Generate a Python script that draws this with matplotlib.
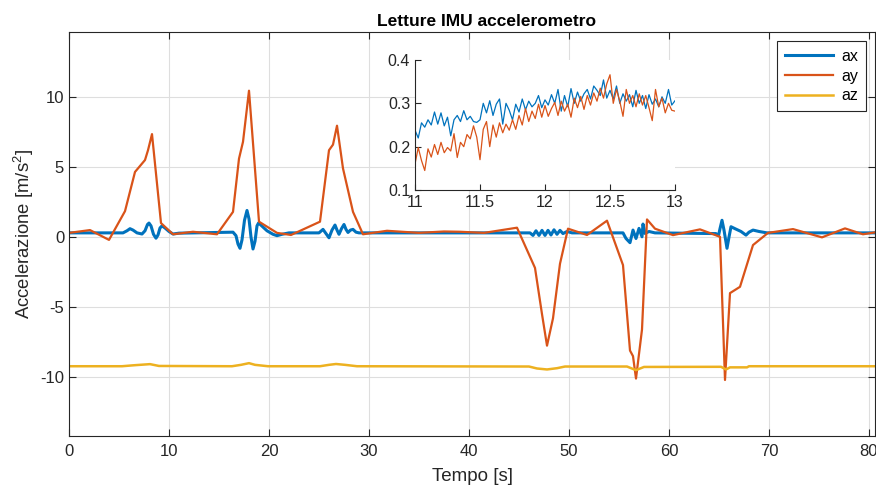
import matplotlib
matplotlib.use('Agg')
import matplotlib.pyplot as plt
import numpy as np

plt.rcParams['font.family'] = ['Liberation Sans', 'DejaVu Sans']
plt.rcParams['mathtext.default'] = 'regular'
plt.rcParams['axes.unicode_minus'] = False

# colori MATLAB di default
c_ax = '#0072BD'
c_ay = '#D95319'
c_az = '#EDB120'

# --- dati grafico principale (tempo [s], accelerazione [m/s^2]) ---
ax_t = [0.0, 5.4, 5.8, 6.1, 6.4, 6.8, 7.3, 7.6, 7.85, 8.0, 8.2, 8.45, 8.7, 8.9,
        9.1, 9.3, 9.6, 10.0, 10.4, 11.0,
        16.4, 16.7, 16.9, 17.1, 17.3, 17.55, 17.8, 18.0, 18.2, 18.4, 18.6, 18.8,
        18.95, 19.2, 19.8, 20.4, 20.8, 21.3, 22.0,
        25.0, 25.4, 25.7, 26.0, 26.3, 26.6, 26.8, 27.0, 27.25, 27.5, 27.7, 27.9,
        28.15, 28.4, 28.7, 29.0,
        46.1, 46.4, 46.7, 47.0, 47.3, 47.6, 47.9, 48.2, 48.5, 48.8, 49.1, 49.4,
        49.8, 50.3,
        55.4, 55.7, 56.1, 56.4, 56.7, 57.0, 57.3, 57.4, 57.6, 58.0, 58.6,
        64.7, 64.95, 65.1, 65.3, 65.5, 65.8, 66.0, 66.2, 66.6, 67.2, 67.7, 68.0,
        68.4, 69.0, 69.8, 81.0]
ax_v = [0.30, 0.30, 0.45, 0.60, 0.50, 0.30, 0.22, 0.45, 0.90, 1.00, 0.80, 0.20, -0.08, 0.15,
        0.65, 0.80, 0.65, 0.40, 0.22, 0.28,
        0.35, 0.10, -0.50, -0.80, -0.20, 1.20, 1.90, 1.30, 0.00, -0.85, -0.30, 0.80,
        1.00, 0.85, 0.45, 0.20, 0.10, 0.20, 0.30,
        0.30, 0.55, 0.25, -0.05, 0.50, 0.86, 0.50, 0.20, 0.60, 0.90, 0.55, 0.33,
        0.50, 0.55, 0.35, 0.30,
        0.30, 0.12, 0.45, 0.12, 0.48, 0.12, 0.48, 0.15, 0.52, 0.20, 0.48, 0.25,
        0.40, 0.30,
        0.30, -0.10, -0.40, 0.50, -0.10, 0.62, 0.02, 0.93, 0.26, 0.40, 0.30,
        0.25, 0.10, 0.60, 1.20, 0.50, -0.80, 0.00, 0.74, 0.60, 0.40, 0.14, 0.35,
        0.50, 0.40, 0.30, 0.30]

ay_t = [0.0, 2.1, 4.0, 5.6, 6.6, 7.6, 7.9, 8.3, 9.2, 10.4, 12.4, 14.8, 16.4, 17.0,
        17.4, 18.0, 19.0, 20.8, 22.2, 25.1, 26.0, 26.4, 26.8, 27.4, 28.4, 29.4,
        31.8, 35.0, 37.5, 39.1, 41.5, 44.8, 46.6, 47.3, 47.8, 48.4, 49.1, 49.9,
        51.8, 53.8, 55.4, 56.1, 56.4, 56.7, 57.3, 57.8, 58.6, 60.4, 63.1, 65.1,
        65.6, 66.1, 67.1, 68.4, 69.9, 72.4, 75.3, 77.6, 79.4, 81.0]
ay_v = [0.30, 0.50, -0.20, 1.85, 4.65, 5.50, 6.20, 7.35, 1.00, 0.20, 0.38, 0.20, 1.80, 5.60,
        6.80, 10.45, 1.10, 0.30, 0.15, 1.10, 6.20, 6.60, 7.95, 4.90, 1.80, 0.20,
        0.45, 0.30, 0.40, 0.38, 0.30, 0.67, -2.20, -5.50, -7.75, -5.80, -1.90, 0.60,
        0.15, 1.17, -2.00, -8.10, -8.50, -10.10, -6.60, 1.26, 0.60, 0.14, 0.55, 0.02,
        -10.20, -4.00, -3.55, -0.57, 0.30, 0.57, -0.02, 0.62, 0.20, 0.38]

az_t = [0.0, 5.3, 6.5, 8.1, 9.0, 16.3, 17.2, 18.0, 18.6, 19.9, 25.1, 26.0, 26.7, 27.6,
        28.8, 46.0, 46.8, 47.8, 48.8, 49.6, 55.8, 56.7, 57.5, 65.2, 65.7, 66.1,
        67.8, 68.0, 81.0]
az_v = [-9.22, -9.22, -9.15, -9.07, -9.20, -9.22, -9.12, -9.00, -9.12, -9.22, -9.22, -9.12,
        -9.06, -9.12, -9.22, -9.24, -9.38, -9.45, -9.36, -9.24, -9.24, -9.50, -9.27,
        -9.26, -9.45, -9.30, -9.30, -9.22, -9.22]

# --- dati dello zoom 11-13 s ---
zoom_t = np.arange(81) * 0.025 + 11.0   # campioni ogni 25 ms
zoom_ax = [0.238, 0.220, 0.255, 0.245, 0.262, 0.250, 0.280, 0.252, 0.278, 0.248,
           0.268, 0.225, 0.262, 0.272, 0.258, 0.283, 0.262, 0.270, 0.258, 0.256,
           0.262, 0.300, 0.278, 0.306, 0.272, 0.298, 0.310, 0.252, 0.300, 0.284,
           0.262, 0.298, 0.280, 0.310, 0.285, 0.305, 0.292, 0.300, 0.318, 0.290,
           0.308, 0.296, 0.320, 0.300, 0.332, 0.282, 0.318, 0.292, 0.334, 0.300,
           0.326, 0.305, 0.322, 0.332, 0.310, 0.340, 0.330, 0.318, 0.354, 0.312,
           0.330, 0.310, 0.340, 0.300, 0.322, 0.305, 0.320, 0.292, 0.330, 0.300,
           0.318, 0.288, 0.320, 0.298, 0.310, 0.292, 0.315, 0.300, 0.332, 0.296,
           0.306]
zoom_ay = [0.160, 0.198, 0.168, 0.145, 0.195, 0.176, 0.205, 0.182, 0.210, 0.186,
           0.198, 0.190, 0.230, 0.175, 0.210, 0.200, 0.228, 0.218, 0.248, 0.222,
           0.170, 0.240, 0.258, 0.200, 0.250, 0.222, 0.255, 0.232, 0.252, 0.238,
           0.262, 0.240, 0.272, 0.250, 0.288, 0.258, 0.282, 0.265, 0.298, 0.268,
           0.295, 0.270, 0.288, 0.302, 0.272, 0.305, 0.282, 0.298, 0.268, 0.312,
           0.290, 0.316, 0.286, 0.318, 0.296, 0.324, 0.305, 0.335, 0.312, 0.345,
           0.366, 0.300, 0.332, 0.305, 0.270, 0.332, 0.300, 0.318, 0.292, 0.322,
           0.296, 0.318, 0.290, 0.260, 0.332, 0.292, 0.312, 0.278, 0.300, 0.284,
           0.282]

fig = plt.figure(figsize=(8.76, 4.91), dpi=100)
ax = fig.add_axes([69/876, 1 - 436/491, 806/876, 404/491])

ax.plot(ax_t, ax_v, color=c_ax, lw=2.2, label='ax')
ax.plot(ay_t, ay_v, color=c_ay, lw=1.6, label='ay')
ax.plot(az_t, az_v, color=c_az, lw=1.8, label='az')

ax.set_xlim(0, 80.6)
ax.set_ylim(-14.2, 14.64)
ax.set_xticks(np.arange(0, 81, 10))
ax.set_yticks([-10, -5, 0, 5, 10])
ax.grid(True, color='#dedede', lw=0.8)
ax.set_axisbelow(True)
ax.tick_params(direction='in', length=5, width=0.8, colors='#262626',
               labelsize=12, top=True, right=True)
ax.tick_params(axis='x', pad=5.5)
for s in ax.spines.values():
    s.set_color('#262626')
    s.set_linewidth(0.8)

ax.set_title('Letture IMU accelerometro', fontsize=12.5, fontweight='bold', pad=4, x=0.518)
ax.set_xlabel('Tempo [s]', fontsize=13.5, color='#262626', labelpad=7)
ax.set_ylabel('Accelerazione [m/s$^2$]', fontsize=13.3, color='#262626', labelpad=3)

leg = ax.legend(loc='upper right', fontsize=11.5, handlelength=3.0,
                borderaxespad=0.55, fancybox=False, framealpha=1,
                labelspacing=0.3, handletextpad=0.5, borderpad=0.5)
leg.get_frame().set_edgecolor('#262626')
leg.get_frame().set_linewidth(0.8)

# riquadro di zoom
ins = fig.add_axes([415/876, 1 - 190/491, 260/876, 130/491])
ins.plot(zoom_t, zoom_ax, color=c_ax, lw=0.9)
ins.plot(zoom_t, zoom_ay, color=c_ay, lw=0.9)
ins.set_xlim(11, 13)
ins.set_ylim(0.1, 0.4)
ins.set_xticks([11, 11.5, 12, 12.5, 13])
ins.set_xticklabels(['11', '11.5', '12', '12.5', '13'])
ins.set_yticks([0.1, 0.2, 0.3, 0.4])
ins.tick_params(direction='in', length=4, width=0.8, colors='#262626', labelsize=11.5)
ins.spines['top'].set_visible(False)
ins.spines['right'].set_visible(False)
for s in ['left', 'bottom']:
    ins.spines[s].set_color('#262626')
    ins.spines[s].set_linewidth(0.8)

fig.savefig('out.png', dpi=100)
